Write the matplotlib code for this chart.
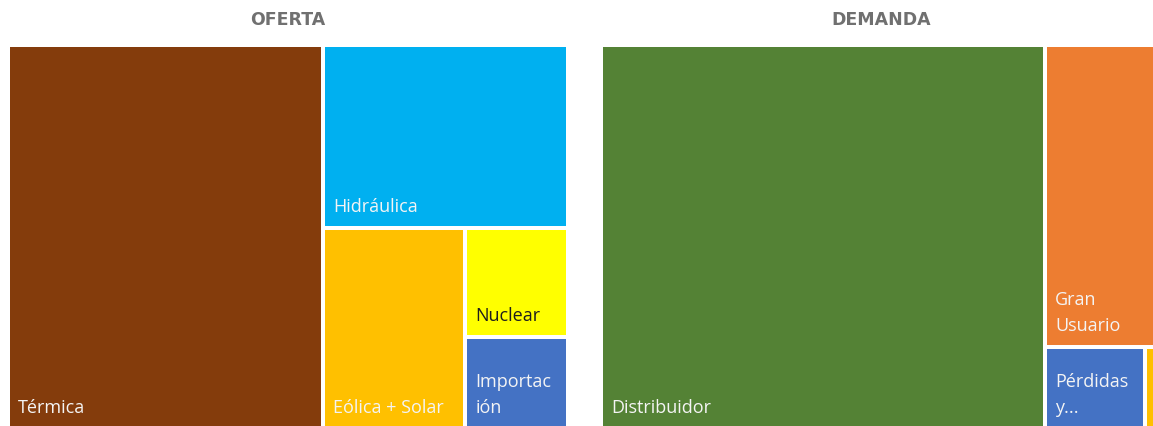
import numpy as np
import matplotlib
matplotlib.use("Agg")
import matplotlib.pyplot as plt
from matplotlib.patches import Rectangle

# porcentajes
oferta_cat = ["Térmica", "Hidráulica", "Eólica + Solar", "Nuclear", "Importación"]
oferta_val = [56.3, 20.8, 13.3, 5.2, 4.4]
oferta_col = ["#843C0C", "#00B0F0", "#FFC000", "#FFFF00", "#4472C4"]

demanda_cat = ["Distribuidor", "Gran Usuario", "Pérdidas y Bombeo", "Exportación"]
demanda_val = [79.3, 16.3, 3.8, 0.6]
demanda_col = ["#548235", "#ED7D31", "#4472C4", "#FFC000"]

# etiquetas tal como se ven (cortadas por el ancho de la celda)
shown = {"Importación": "Importac\nión", "Gran Usuario": "Gran\nUsuario",
         "Pérdidas y Bombeo": "Pérdidas\ny...", "Exportación": ""}
dark_text = {"Nuclear"}


def worst(row, side):
    s = sum(row)
    return max(max(side * side * r / (s * s), s * s / (side * side * r)) for r in row)


def squarify(values, x, y, w, h):
    total = sum(values)
    areas = [v * w * h / total for v in values]
    rects = []
    while areas:
        side = min(w, h)
        row = [areas.pop(0)]
        while areas and worst(row + [areas[0]], side) <= worst(row, side):
            row.append(areas.pop(0))
        s = sum(row)
        if w >= h:
            cw = s / h
            yy = y
            for a in row:
                rects.append((x, yy, cw, a / cw))
                yy += a / cw
            x += cw
            w -= cw
        else:
            rh = s / w
            xx = x
            for a in row:
                rects.append((xx, y, a / rh, rh))
                xx += a / rh
            y += rh
            h -= rh
    return rects


def draw_treemap(ax, cats, vals, cols, x0, title):
    gap = 4
    top, width, height = 47, 556, 380
    rects = squarify(vals, x0 - gap / 2, top - gap / 2, width + gap, height + gap)
    for (x, y, w, h), cat, c in zip(rects, cats, cols):
        ax.add_patch(Rectangle((x + gap / 2, y + gap / 2), w - gap, h - gap,
                               facecolor=c, edgecolor="none"))
        lab = shown.get(cat, cat)
        if lab:
            ax.text(x + gap / 2 + 8, y + h - gap / 2 - 10, lab, ha="left", va="bottom",
                    fontsize=13, family="Open Sans", linespacing=1.6,
                    color="#1E1E1E" if cat in dark_text else "#F4F4F4")
    ax.text(x0 + width / 2, 20, title, ha="center", va="center", fontsize=12.5,
            family="DejaVu Sans", fontweight="semibold", color="#707070")


fig = plt.figure(figsize=(11.53, 4.26), dpi=100)
ax = fig.add_axes([0, 0, 1, 1])
ax.set_xlim(0, 1153)
ax.set_ylim(426, 0)
ax.axis("off")

draw_treemap(ax, oferta_cat, oferta_val, oferta_col, 10, "OFERTA")
draw_treemap(ax, demanda_cat, demanda_val, demanda_col, 603, "DEMANDA")

fig.savefig("out.png", dpi=100)
